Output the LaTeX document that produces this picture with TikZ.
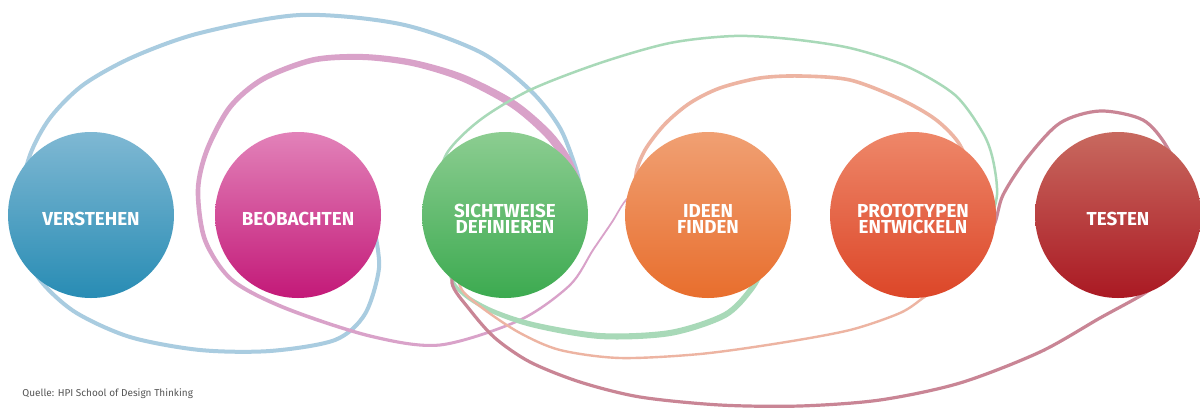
\documentclass[tikz,border=0pt]{standalone}
\usepackage{fontspec}
\setmainfont{Fira Sans}
\definecolor{lblue}{HTML}{A9CCE0}
\definecolor{lpink}{HTML}{D9A2C9}
\definecolor{lgreen}{HTML}{A8D9B8}
\definecolor{lsalmon}{HTML}{EDB4A2}
\definecolor{lred}{HTML}{C98595}
\definecolor{srcgray}{HTML}{555555}
\definecolor{c1t}{HTML}{7FB8D3}\definecolor{c1b}{HTML}{288CB4}
\definecolor{c2t}{HTML}{E282B9}\definecolor{c2b}{HTML}{C31978}
\definecolor{c3t}{HTML}{8CCD91}\definecolor{c3b}{HTML}{3CAA50}
\definecolor{c4t}{HTML}{F0A073}\definecolor{c4b}{HTML}{E86E2D}
\definecolor{c5t}{HTML}{EE8769}\definecolor{c5b}{HTML}{DC4628}
\definecolor{c6t}{HTML}{C8695F}\definecolor{c6b}{HTML}{AA1923}
\tikzset{
  ball/.style={circle, minimum size=83pt, inner sep=0pt, draw=none},
  lbl/.style={text=white, font=\bfseries\fontsize{9.4}{8.2}\selectfont, align=center, inner sep=0pt},
  loopline/.style={line cap=round, line join=round},
}
\begin{document}
\begin{tikzpicture}[x=0.5pt,y=-0.5pt]
\useasboundingbox (0,0) rectangle (1200,408);
\fill[white] (0,0) rectangle (1200,408);

% blue loop
\draw[loopline, lblue, line width=2pt] plot[smooth] coordinates {
 (581,195) (577,172) (560,128) (530,90) (480,52) (400,24) (300,15) (200,33)
 (133,57) (83,85) (50,118) (30,155) (20,200) (24,245) (40,280) (75,312) (130,337)
 (200,350) (270,351) (335,340) (365,314) (379,268) (374,228)};

% pink loop (tapered)
\fill[lpink] plot[smooth] coordinates {
 (572.4,181.7) (562.4,160.2) (544.0,135.9) (510.8,107.4) (461.6,81.3) (412.3,66.1)
 (362.9,60.0) (313.6,62.7) (264.3,81.3) (232.0,108.6) (209.2,150.9) (200.3,190.1)
 (207.1,239.2) (233.3,278.5) (285.7,306.3) (370.4,334.4) (439.8,343.5) (519.5,318.8)
 (569.2,284.2) (592.2,249.5) (611.3,221.5) (625.4,199.5) (644.5,184.4)}
 -- plot[smooth] coordinates {
 (645.5,185.6) (626.6,200.5) (612.8,222.5) (593.8,250.5) (570.8,285.8) (520.5,321.2)
 (440.2,346.5) (369.6,337.6) (284.3,309.7) (230.7,281.5) (202.9,240.8) (195.7,189.9)
 (204.8,149.1) (228.0,105.5) (261.7,76.7) (312.4,57.3) (363.1,54.0) (413.7,59.9)
 (464.4,74.7) (515.2,100.7) (550.0,130.1) (569.6,155.8) (579.6,178.3)} -- cycle;

% green loop: thin top
\draw[loopline, lgreen, line width=1.25pt] plot[smooth] coordinates {
 (988,230) (997,195) (993,160) (983,133) (955,95) (906,66) (850,48) (790,39)
 (734,36) (670,43) (600,63) (530,90) (480,120) (447,153) (437,190) (440,215)};
% green loop: thick bottom
\fill[lgreen] plot[smooth] coordinates {
 (441.2,214.8) (453.5,279.3) (483.1,304.1) (530.7,321.4) (600.2,333.0)
 (669.5,330.0) (723.6,312.4) (749.8,286.3) (763.7,260.8)}
 -- plot[smooth] coordinates {
 (768.3,263.2) (754.2,289.7) (726.4,317.6) (670.5,336.0) (599.8,339.0)
 (529.3,326.6) (480.9,307.9) (450.6,280.7) (438.8,215.2)} -- cycle;

% salmon loop
\draw[loopline, lsalmon, line width=1.8pt] plot[smooth] coordinates {
 (641,202) (636,175) (645,150) (665,124) (690,103) (720,88) (760,78) (800,76)
 (850,80) (900,99) (935,119) (958,142) (970,170) (972,200)};
\draw[loopline, lsalmon, line width=1.2pt] plot[smooth] coordinates {
 (972,200) (965,255) (940,285) (923,298) (900,313) (850,330) (780,343) (700,354)
 (620,358) (560,350) (520,333) (485,310) (462,290) (455,265)};

% red loop
\draw[loopline, lred, line width=1.6pt] plot[smooth] coordinates {
 (975,255) (994,225) (1003,195) (1027,158) (1060,123) (1100,111) (1143,120)
 (1167,147) (1182,185) (1180,240) (1160,278) (1145,293) (1100,318) (1040,352)
 (960,383) (880,400) (800,406) (720,405) (640,397) (580,382) (530,362)
 (495,338) (470,310) (452,283) (462,255)};

% circles
\node[ball, top color=c1t, bottom color=c1b] (c1) at (91,215) {};
\node[ball, top color=c2t, bottom color=c2b] (c2) at (298,215) {};
\node[ball, top color=c3t, bottom color=c3b] (c3) at (505,215) {};
\node[ball, top color=c4t, bottom color=c4b] (c4) at (708,215) {};
\node[ball, top color=c5t, bottom color=c5b] (c5) at (913,215) {};
\node[ball, top color=c6t, bottom color=c6b] (c6) at (1118,215) {};

% labels
\node[lbl] (t1) at (91,219) {VERSTEHEN};
\node[lbl] (t2) at (298,219) {BEOBACHTEN};
\node[lbl] (t3) at (505,219) {SICHTWEISE\\DEFINIEREN};
\node[lbl] (t4) at (708,219) {IDEEN\\FINDEN};
\node[lbl] (t5) at (913,219) {PROTOTYPEN\\ENTWICKELN};
\node[lbl] (t6) at (1118,219) {TESTEN};

\node[anchor=west, inner sep=0pt, text=srcgray, font=\fontsize{5}{6}\selectfont] (src) at (22,394) {Quelle: HPI School of Design Thinking};
\end{tikzpicture}
\end{document}
